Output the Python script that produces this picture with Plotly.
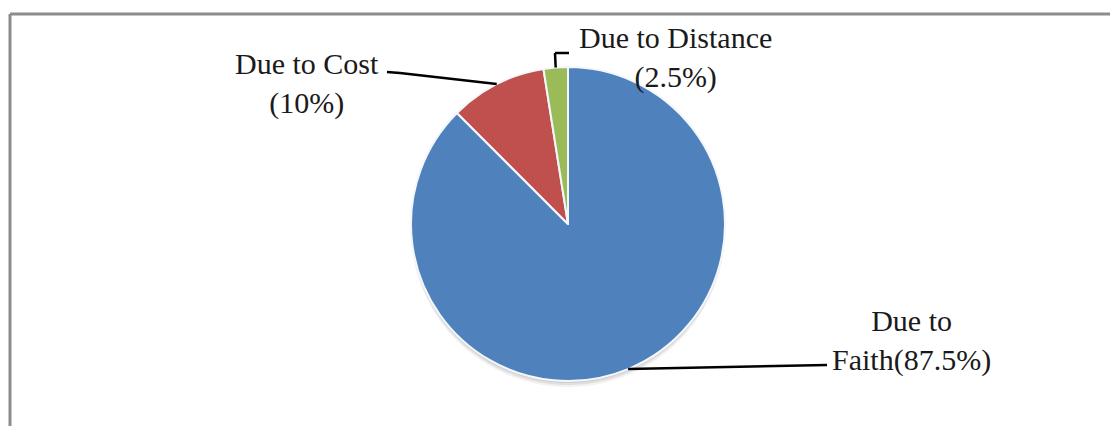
import math
import plotly.graph_objects as go

# Reasons share (percent), clockwise from 12 o'clock
reasons = ["Due to Faith", "Due to Cost", "Due to Distance"]
shares = [87.5, 10, 2.5]
label_text = ["Due to<br>Faith(87.5%)", "Due to Cost<br>(10%)", "Due to Distance<br>(2.5%)"]
slice_colors = ["#4F81BD", "#C0504D", "#9BBB59"]

W, H = 1110, 426
CX, CY, R = 568, 224, 157          # pie centre / radius in pixels
FONT = "Liberation Serif"

def px_to_paper(x, y):
    return x / W, 1 - y / H

def rim_point(k):
    """Point on the rim at the mid-angle of slice k (clockwise from top)."""
    total = sum(shares)
    start = sum(shares[:k]) / total * 360
    mid = math.radians(start + shares[k] / total * 360 / 2)
    return CX + R * math.sin(mid), CY - R * math.cos(mid)

dom_x = [(CX - R) / W, (CX + R) / W]

fig = go.Figure()

# soft drop shadow beneath the pie
for dy, alpha in [(6, 0.05), (4, 0.07), (2, 0.08)]:
    fig.add_trace(go.Pie(
        labels=reasons, values=shares, sort=False, direction="clockwise",
        marker=dict(colors=[f"rgba(0,0,0,{alpha})"] * 3, line=dict(width=0)),
        textinfo="none", hoverinfo="skip", showlegend=False,
        domain=dict(x=dom_x, y=[1 - (CY + dy + R) / H, 1 - (CY + dy - R) / H]),
    ))

fig.add_trace(go.Pie(
    labels=reasons, values=shares, sort=False, direction="clockwise",
    marker=dict(colors=slice_colors, line=dict(color="#F4F7FB", width=2)),
    textinfo="none", showlegend=False,
    domain=dict(x=dom_x, y=[1 - (CY + R) / H, 1 - (CY - R) / H]),
))

# leader lines: rim anchor -> elbow -> label side
label_pos = [(911, 340), (307, 84), (675, 57)]
elbows = [
    [(827, 365)],
    [(400, 73), (387, 72)],
    [(555, 53), (569, 53)],
]
shapes = []
for k in range(3):
    pts = [rim_point(k)] + elbows[k]
    for (x0, y0), (x1, y1) in zip(pts[:-1], pts[1:]):
        a0, b0 = px_to_paper(x0, y0)
        a1, b1 = px_to_paper(x1, y1)
        shapes.append(dict(type="line", xref="paper", yref="paper",
                           x0=a0, y0=b0, x1=a1, y1=b1,
                           line=dict(color="black", width=2.5)))

# chart frame (top and left edges)
fx0, fy0 = px_to_paper(10, 14)
shapes.append(dict(type="line", xref="paper", yref="paper", x0=fx0, y0=fy0, x1=1, y1=fy0,
                   line=dict(color="#8C8C8C", width=3)))
shapes.append(dict(type="line", xref="paper", yref="paper", x0=fx0, y0=fy0, x1=fx0, y1=0,
                   line=dict(color="#8C8C8C", width=3)))

annotations = []
for k in range(3):
    ax, ay = px_to_paper(*label_pos[k])
    annotations.append(dict(x=ax, y=ay, xref="paper", yref="paper", text=label_text[k],
                            showarrow=False, xanchor="center", yanchor="middle", align="center",
                            font=dict(family=FONT, size=30, color="#1a1a1a")))

fig.update_layout(
    width=W, height=H, margin=dict(l=0, r=0, t=0, b=0),
    paper_bgcolor="white", plot_bgcolor="white",
    shapes=shapes, annotations=annotations,
)

fig.write_html("out.html")
